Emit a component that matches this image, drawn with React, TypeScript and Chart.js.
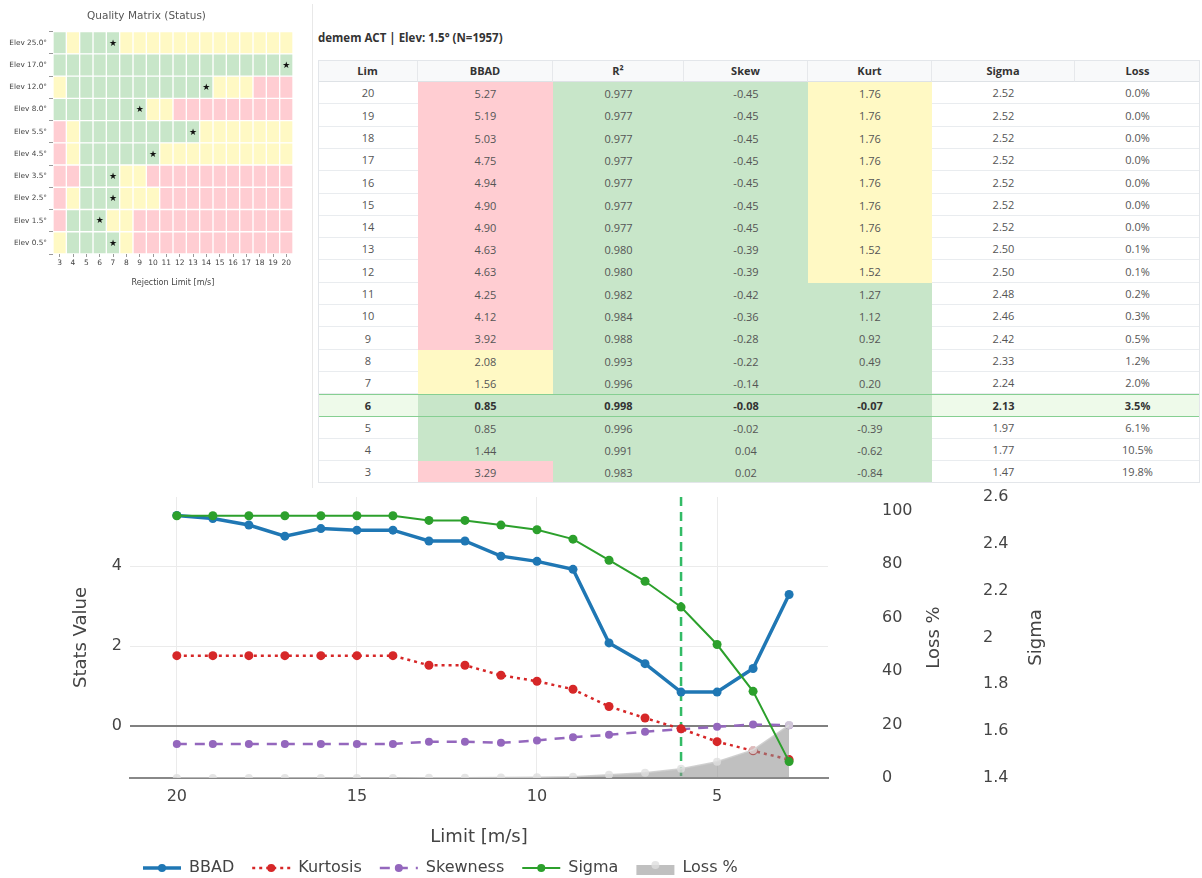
import React, { useEffect, useRef } from 'react';
import { Chart, registerables } from 'chart.js';

Chart.register(...registerables);

const FONT = '"DejaVu Sans", Verdana, sans-serif';
const TABLE_FONT = '"Open Sans", "Noto Sans", sans-serif';

// ---------- Quality matrix (heatmap) ----------
const elevLabels = ['Elev 25.0°', 'Elev 17.0°', 'Elev 12.0°', 'Elev 8.0°', 'Elev 5.5°', 'Elev 4.5°', 'Elev 3.5°', 'Elev 2.5°', 'Elev 1.5°', 'Elev 0.5°'];
const rejectionLimits = [3, 4, 5, 6, 7, 8, 9, 10, 11, 12, 13, 14, 15, 16, 17, 18, 19, 20];
// status per cell, columns = rejection limits 3..20 (G good, Y warn, R bad)
const statusRows = [
  'GYGGGYYYYYYYYYYYYY',
  'GGGGGGGGGGGGGGGGGG',
  'YGGGGGGGGGGGYYYRRR',
  'GGGGGGGYYRRRRRRRRR',
  'RYGGGGGGGGGYYYYYYY',
  'RYGGGGGGYYYYYYYYYY',
  'RRGGGYYRRRRRRRRRRR',
  'RYGGGYYYRRRRRRRRRR',
  'RGGGYYRRRRRRRRRRRR',
  'YGGGGYRRRRRRRRRRRR',
];
const bestLimitPerElev = [7, 20, 14, 9, 13, 10, 7, 7, 6, 7];

// ---------- Table / stats chart ----------
const limits = [20, 19, 18, 17, 16, 15, 14, 13, 12, 11, 10, 9, 8, 7, 6, 5, 4, 3];
const bbad = [5.27, 5.19, 5.03, 4.75, 4.94, 4.90, 4.90, 4.63, 4.63, 4.25, 4.12, 3.92, 2.08, 1.56, 0.85, 0.85, 1.44, 3.29];
const r2 = [0.977, 0.977, 0.977, 0.977, 0.977, 0.977, 0.977, 0.980, 0.980, 0.982, 0.984, 0.988, 0.993, 0.996, 0.998, 0.996, 0.991, 0.983];
const skew = [-0.45, -0.45, -0.45, -0.45, -0.45, -0.45, -0.45, -0.39, -0.39, -0.42, -0.36, -0.28, -0.22, -0.14, -0.08, -0.02, 0.04, 0.02];
const kurt = [1.76, 1.76, 1.76, 1.76, 1.76, 1.76, 1.76, 1.52, 1.52, 1.27, 1.12, 0.92, 0.49, 0.20, -0.07, -0.39, -0.62, -0.84];
const sigma = [2.52, 2.52, 2.52, 2.52, 2.52, 2.52, 2.52, 2.50, 2.50, 2.48, 2.46, 2.42, 2.33, 2.24, 2.13, 1.97, 1.77, 1.47];
const lossPct = [0.0, 0.0, 0.0, 0.0, 0.0, 0.0, 0.0, 0.1, 0.1, 0.2, 0.3, 0.5, 1.2, 2.0, 3.5, 6.1, 10.5, 19.8];
const bbadStatus = ['R', 'R', 'R', 'R', 'R', 'R', 'R', 'R', 'R', 'R', 'R', 'R', 'Y', 'Y', 'G', 'G', 'G', 'R'];
const r2Status = ['G', 'G', 'G', 'G', 'G', 'G', 'G', 'G', 'G', 'G', 'G', 'G', 'G', 'G', 'G', 'G', 'G', 'G'];
const skewStatus = ['G', 'G', 'G', 'G', 'G', 'G', 'G', 'G', 'G', 'G', 'G', 'G', 'G', 'G', 'G', 'G', 'G', 'G'];
const kurtStatus = ['Y', 'Y', 'Y', 'Y', 'Y', 'Y', 'Y', 'Y', 'Y', 'G', 'G', 'G', 'G', 'G', 'G', 'G', 'G', 'G'];
const selectedLimit = 6;
const tableTitle = 'demem ACT | Elev: 1.5° (N=1957)';
const tableHeaders = ['Lim', 'BBAD', 'R²', 'Skew', 'Kurt', 'Sigma', 'Loss'];

const limitTicks = [20, 15, 10, 5];
const statsTicks = [0, 2, 4];
const lossTicks = [0, 20, 40, 60, 80, 100];
const sigmaTicks = [1.4, 1.6, 1.8, 2.0, 2.2, 2.4, 2.6];

const STATUS_COLOR: Record<string, string> = { G: '#c8e6c9', Y: '#fff9c4', R: '#ffcdd2' };

function QualityMatrix() {
  const ref = useRef<HTMLCanvasElement>(null);
  useEffect(() => {
    const datasets = rejectionLimits.map((lim, ci) => ({
      label: String(lim),
      data: elevLabels.map(() => [lim - 0.5, lim + 0.5]),
      backgroundColor: statusRows.map((row) => STATUS_COLOR[row[ci]]),
      borderColor: '#ffffff',
      borderWidth: 1,
      borderSkipped: false,
      grouped: false,
      barPercentage: 1,
      categoryPercentage: 1,
    }));
    const starPlugin = {
      id: 'stars',
      afterDatasetsDraw(chart: any) {
        const { ctx, scales } = chart;
        ctx.save();
        ctx.fillStyle = '#111';
        ctx.font = `9px ${FONT}`;
        ctx.textAlign = 'center';
        ctx.textBaseline = 'middle';
        bestLimitPerElev.forEach((c, i) => {
          ctx.fillText('★', scales.x.getPixelForValue(c), scales.y.getPixelForValue(i) + 0.5);
        });
        ctx.restore();
      },
    };
    const chart = new Chart(ref.current!, {
      type: 'bar',
      data: { labels: elevLabels, datasets: datasets as any },
      options: {
        indexAxis: 'y',
        animation: false,
        responsive: false,
        events: [],
        layout: { padding: { left: 0, right: 7, top: 0, bottom: 0 } },
        plugins: {
          legend: { display: false },
          tooltip: { enabled: false },
          title: {
            display: true,
            text: 'Quality Matrix (Status)',
            color: '#555',
            font: { family: FONT, size: 10.5, weight: 'normal' },
            padding: { top: 10, bottom: 9 },
          },
        },
        scales: {
          x: {
            type: 'linear',
            min: 2.5,
            max: 20.5,
            afterBuildTicks: (s: any) => { s.ticks = rejectionLimits.map((v) => ({ value: v })); },
            afterFit: (s: any) => { s.height = 36; },
            ticks: { font: { family: FONT, size: 7.5 }, color: '#444', padding: 2, autoSkip: false, maxRotation: 0 },
            grid: { drawOnChartArea: false, drawTicks: true, tickLength: 3, color: '#999' },
            border: { display: false },
            title: {
              display: true,
              text: 'Rejection Limit [m/s]',
              color: '#444',
              font: { family: FONT, size: 8 },
              padding: { top: 0, bottom: 2 },
            },
          },
          y: {
            type: 'category',
            afterFit: (s: any) => { s.width = 53; },
            ticks: { font: { family: FONT, size: 7.3 }, color: '#444', padding: 2, autoSkip: false },
            grid: { drawOnChartArea: false, drawTicks: true, tickLength: 4, color: '#999' },
            border: { display: false },
          },
        },
      } as any,
      plugins: [starPlugin],
    });
    return () => chart.destroy();
  }, []);
  return <canvas ref={ref} width={300} height={290} style={{ position: 'absolute', left: 0, top: 0, display: 'block' }} />;
}

function StatsTable() {
  const colW = [100, 135, 131, 124, 124, 143, 125];
  const headerH = 22;
  const rowH = 22.3;
  const colLeft = colW.map((_, i) => colW.slice(0, i).reduce((a, b) => a + b, 0));
  const rowTop = (r: number) => Math.round(headerH + r * rowH);
  const rows = limits.map((lim, i) => [
    { text: String(lim), status: '' },
    { text: bbad[i].toFixed(2), status: bbadStatus[i] },
    { text: r2[i].toFixed(3), status: r2Status[i] },
    { text: skew[i].toFixed(2), status: skewStatus[i] },
    { text: kurt[i].toFixed(2), status: kurtStatus[i] },
    { text: sigma[i].toFixed(2), status: '' },
    { text: lossPct[i].toFixed(1) + '%', status: '' },
  ]);
  const selIdx = limits.indexOf(selectedLimit);
  return (
    <>
      <div style={{ position: 'absolute', left: 312, top: 4, width: 1, height: 484, background: '#e8e8e8' }} />
      <div style={{ position: 'absolute', left: 318, top: 31, fontFamily: TABLE_FONT, fontSize: 11.5, fontWeight: 700, color: '#333', lineHeight: '14px', whiteSpace: 'nowrap' }}>{tableTitle}</div>
      <div style={{ position: 'absolute', left: 318, top: 60, width: 882, height: rowTop(limits.length), fontFamily: TABLE_FONT, fontSize: 11, color: '#555' }}>
        {tableHeaders.map((h, c) => (
          <div key={'h' + c} style={{
            position: 'absolute', left: colLeft[c], top: 0, width: colW[c], height: headerH, boxSizing: 'border-box',
            background: '#f8f9fa', borderBottom: '1px solid #dee2e6', borderRight: c < colW.length - 1 ? '1px solid #e6e8eb' : 'none',
            display: 'flex', alignItems: 'center', justifyContent: 'center', fontWeight: 700, color: '#333',
          }}>{h}</div>
        ))}
        {rows.map((row, r) => row.map((cell, c) => {
          const sel = r === selIdx;
          const bg = cell.status ? STATUS_COLOR[cell.status] : (sel ? '#eefaea' : '#ffffff');
          const top = rowTop(r);
          const h = rowTop(r + 1) - top;
          return (
            <div key={r + '-' + c} style={{
              position: 'absolute', left: colLeft[c], top, width: colW[c], height: h, boxSizing: 'border-box',
              background: bg, borderBottom: cell.status ? 'none' : '1px solid #e9ecef',
              display: 'flex', alignItems: 'center', justifyContent: 'center',
              fontWeight: sel ? 700 : 400, color: sel ? '#333' : '#555',
            }}>{cell.text}</div>
          );
        }))}
        <div style={{ position: 'absolute', left: 0, top: rowTop(selIdx), width: 882, height: rowTop(selIdx + 1) - rowTop(selIdx), boxSizing: 'border-box', border: '1px solid #86cf92' }} />
        <div style={{ position: 'absolute', left: 0, top: 0, right: 0, bottom: 0, boxSizing: 'border-box', border: '1px solid #e3e6ea' }} />
      </div>
    </>
  );
}

function StatsChart() {
  const ref = useRef<HTMLCanvasElement>(null);
  useEffect(() => {
    const pts = (arr: number[]) => limits.map((l, i) => ({ x: l, y: arr[i] }));
    const overlay = {
      id: 'overlay',
      beforeDatasetsDraw(chart: any) {
        const { ctx, chartArea, scales } = chart;
        const x = scales.x.getPixelForValue(selectedLimit);
        ctx.save();
        ctx.strokeStyle = '#33bb66';
        ctx.lineWidth = 2.5;
        ctx.setLineDash([9, 6]);
        ctx.beginPath();
        ctx.moveTo(x, chartArea.top);
        ctx.lineTo(x, chartArea.bottom);
        ctx.stroke();
        ctx.restore();
      },
      afterDraw(chart: any) {
        const { ctx, chartArea, scales } = chart;
        const cy = (chartArea.top + chartArea.bottom) / 2;
        ctx.save();
        ctx.fillStyle = '#444';
        ctx.font = `18px ${FONT}`;
        ctx.textAlign = 'center';
        ctx.textBaseline = 'middle';
        const vtitle = (t: string, x: number) => {
          ctx.save();
          ctx.translate(x, cy);
          ctx.rotate(-Math.PI / 2);
          ctx.fillText(t, 0, 0);
          ctx.restore();
        };
        vtitle('Loss %', scales.y2.left + 106);
        vtitle('Sigma', scales.y3.left + 68);
        // legend
        const ly = 383;
        let lx = 143;
        ctx.font = `16px ${FONT}`;
        ctx.textAlign = 'left';
        chart.data.datasets.forEach((ds: any) => {
          const sw = 38;
          if (ds.fill) {
            ctx.fillStyle = ds.backgroundColor;
            ctx.fillRect(lx, ly - 3, sw, 10);
            ctx.fillStyle = ds.pointBackgroundColor;
            ctx.beginPath();
            ctx.arc(lx + sw / 2, ly - 3, 4, 0, Math.PI * 2);
            ctx.fill();
          } else {
            ctx.strokeStyle = ds.borderColor;
            ctx.lineWidth = ds.borderWidth;
            ctx.setLineDash(ds.borderDash || []);
            ctx.beginPath();
            ctx.moveTo(lx, ly);
            ctx.lineTo(lx + sw, ly);
            ctx.stroke();
            ctx.setLineDash([]);
            ctx.fillStyle = ds.borderColor;
            ctx.beginPath();
            ctx.arc(lx + sw / 2, ly, 4, 0, Math.PI * 2);
            ctx.fill();
          }
          ctx.fillStyle = '#444';
          ctx.fillText(ds.label, lx + sw + 8, ly);
          lx += sw + 8 + ctx.measureText(ds.label).width + 18;
        });
        ctx.restore();
      },
    };
    const tickFont = { family: FONT, size: 16 };
    const noVPad = (s: any) => { s.paddingTop = 8; s.paddingBottom = 8; };
    const chart = new Chart(ref.current!, {
      type: 'line',
      data: {
        datasets: [
          { label: 'BBAD', data: pts(bbad), borderColor: '#1f77b4', backgroundColor: '#1f77b4', borderWidth: 3.5, pointRadius: 4.5, pointBorderWidth: 0, yAxisID: 'y', order: 3 },
          { label: 'Kurtosis', data: pts(kurt), borderColor: '#d62728', backgroundColor: '#d62728', borderWidth: 2.5, borderDash: [3, 4], pointRadius: 4.5, pointBorderWidth: 0, yAxisID: 'y', order: 3 },
          { label: 'Skewness', data: pts(skew), borderColor: '#9467bd', backgroundColor: '#9467bd', borderWidth: 2.5, borderDash: [10, 8], pointRadius: 4, pointBorderWidth: 0, yAxisID: 'y', order: 3 },
          { label: 'Sigma', data: pts(sigma), borderColor: '#2ca02c', backgroundColor: '#2ca02c', borderWidth: 2, pointRadius: 4.5, pointBorderWidth: 0, yAxisID: 'y3', order: 1 },
          { label: 'Loss %', data: pts(lossPct), borderColor: 'rgba(205,205,205,0.9)', backgroundColor: 'rgba(140,140,140,0.55)', pointBackgroundColor: 'rgba(222,222,222,0.8)', borderWidth: 1.5, pointRadius: 4, pointBorderWidth: 0, fill: 'origin', yAxisID: 'y2', order: 2 },
        ],
      },
      options: {
        animation: false,
        responsive: false,
        events: [],
        layout: { padding: { left: 0, right: 134, top: 12, bottom: 0 } },
        plugins: { legend: { display: false }, tooltip: { enabled: false } },
        scales: {
          x: {
            type: 'linear',
            reverse: true,
            min: 1.92,
            max: 21.3,
            afterBuildTicks: (s: any) => { s.ticks = limitTicks.map((v) => ({ value: v })); },
            afterFit: (s: any) => { s.height = 100; s.paddingLeft = 0; s.paddingRight = 0; },
            ticks: { font: tickFont, color: '#444', padding: 9, maxRotation: 0 },
            grid: { color: '#ebebeb', drawTicks: false },
            border: { display: true, color: '#888', width: 2 },
            title: { display: true, text: 'Limit [m/s]', color: '#444', font: { family: FONT, size: 18 }, padding: { top: 0, bottom: 30 } },
          },
          y: {
            type: 'linear',
            position: 'left',
            min: -1.3,
            max: 5.73,
            afterBuildTicks: (s: any) => { s.ticks = statsTicks.map((v) => ({ value: v })); },
            afterFit: (s: any) => { s.width = 130; noVPad(s); },
            ticks: { font: tickFont, color: '#444', padding: 8 },
            grid: {
              drawTicks: false,
              color: (c: any) => (c.tick && c.tick.value === 0 ? '#808080' : '#ebebeb'),
              lineWidth: (c: any) => (c.tick && c.tick.value === 0 ? 2 : 1),
            },
            border: { display: false },
            title: { display: true, text: 'Stats Value', color: '#444', font: { family: FONT, size: 18 }, padding: { top: 71, bottom: 0 } },
          },
          y2: {
            type: 'linear',
            position: 'right',
            min: 0,
            max: 105,
            afterBuildTicks: (s: any) => { s.ticks = lossTicks.map((v) => ({ value: v })); },
            afterFit: (s: any) => { s.width = 140; noVPad(s); },
            ticks: { font: tickFont, color: '#444', padding: 54 },
            grid: { drawOnChartArea: false, drawTicks: false },
            border: { display: false },
          },
          y3: {
            type: 'linear',
            position: 'right',
            min: 1.4,
            max: 2.6,
            afterBuildTicks: (s: any) => { s.ticks = sigmaTicks.map((v) => ({ value: v })); },
            afterFit: (s: any) => { s.width = 100; noVPad(s); },
            ticks: { font: tickFont, color: '#444', padding: 15, callback: (v: any) => String(Math.round(Number(v) * 10) / 10) },
            grid: { drawOnChartArea: false, drawTicks: false },
            border: { display: false },
          },
        },
      } as any,
      plugins: [overlay],
    });
    return () => chart.destroy();
  }, []);
  return <canvas ref={ref} width={1202} height={393} style={{ position: 'absolute', left: 0, top: 485, display: 'block' }} />;
}

export default function App() {
  return (
    <div style={{ position: 'absolute', left: 0, top: 0, width: 1202, height: 878, background: '#fff', overflow: 'hidden' }}>
      <QualityMatrix />
      <StatsTable />
      <StatsChart />
    </div>
  );
}
